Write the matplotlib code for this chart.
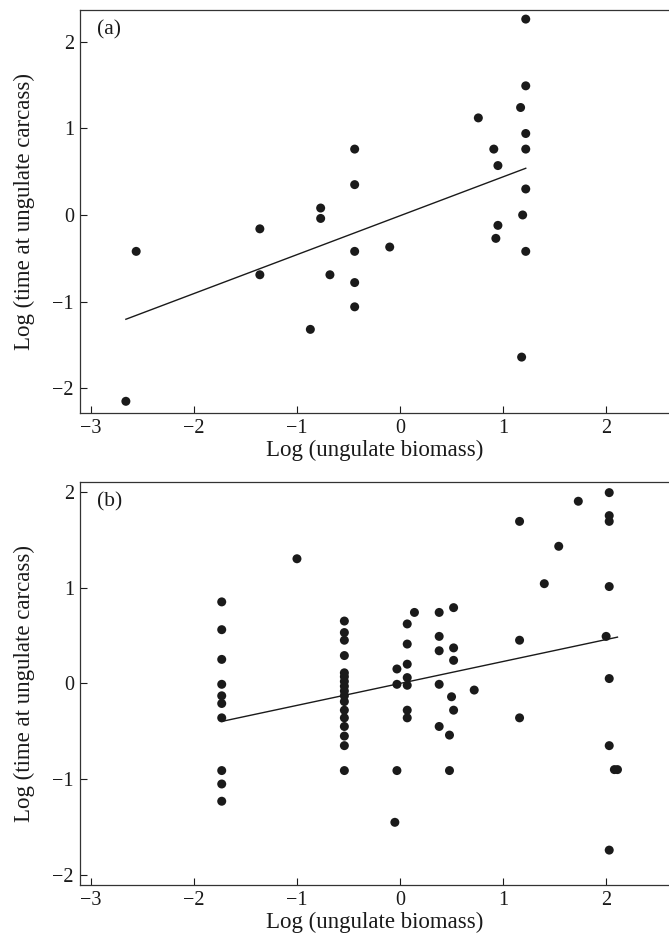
import matplotlib
matplotlib.use("Agg")
import matplotlib.pyplot as plt
import numpy as np

# ---- Panel (a) data ----
a_x = [-2.66, -2.56, -1.36, -1.36, -0.77, -0.77, -0.68, -0.87,
       -0.44, -0.44, -0.44, -0.44, -0.44, -0.10,
       0.76, 0.91, 0.95, 0.95, 0.93,
       1.22, 1.22, 1.17, 1.22, 1.22, 1.22, 1.19, 1.22, 1.18]
a_y = [-2.15, -0.42, -0.16, -0.69, 0.08, -0.04, -0.69, -1.32,
       0.76, 0.35, -0.42, -0.78, -1.06, -0.37,
       1.12, 0.76, 0.57, -0.12, -0.27,
       2.26, 1.49, 1.24, 0.94, 0.76, 0.30, 0.00, -0.42, -1.64]
a_fit = (0.449, -0.009)   # slope, intercept

# ---- Panel (b) data ----
b_x = ([-1.73] * 10 + [-1.00] + [-0.54] * 17 +
       [-0.03, -0.03, -0.03, -0.05] +
       [0.07] * 7 + [0.14] +
       [0.38] * 5 + [0.52] * 4 + [0.50, 0.48, 0.48, 0.72] +
       [1.16] * 3 + [1.40, 1.54, 1.73] +
       [2.03] * 7 + [2.00, 2.08, 2.11])
b_y = ([0.85, 0.56, 0.25, -0.01, -0.13, -0.21, -0.36, -0.91, -1.05, -1.23] +
       [1.30] +
       [0.65, 0.53, 0.45, 0.29, 0.11, 0.07, 0.02, -0.03, -0.08, -0.13, -0.19,
        -0.28, -0.36, -0.45, -0.55, -0.65, -0.91] +
       [0.15, -0.01, -0.91, -1.45] +
       [0.62, 0.41, 0.20, 0.06, -0.02, -0.28, -0.36] +
       [0.74] +
       [0.74, 0.49, 0.34, -0.01, -0.45] +
       [0.79, 0.37, 0.24, -0.28] +
       [-0.14, -0.54, -0.91, -0.07] +
       [1.69, 0.45, -0.36] +
       [1.04, 1.43, 1.90] +
       [1.99, 1.75, 1.69, 1.01, 0.05, -0.65, -1.74] +
       [0.49, -0.90, -0.90])
b_fit = (0.229, -0.001)

x_ticks = [-3, -2, -1, 0, 1, 2]
y_ticks = [-2, -1, 0, 1, 2]
xlabel = "Log (ungulate biomass)"
ylabel = "Log (time at ungulate carcass)"

plt.rcParams['font.family'] = ['Liberation Serif', 'DejaVu Serif']

W, H = 669, 936
fig = plt.figure(figsize=(W / 100, H / 100), dpi=100)

def px_axes(left, top, right, bottom):
    return fig.add_axes([left / W, 1 - bottom / H, (right - left) / W, (bottom - top) / H])

ax_a = px_axes(79.5, 10, 669, 413)
ax_b = px_axes(79.5, 481.7, 669, 885)

panels = [
    (ax_a, a_x, a_y, a_fit, (-2.285, 2.365), "(a)"),
    (ax_b, b_x, b_y, b_fit, (-2.104, 2.104), "(b)"),
]

def fmt(t):
    return str(t).replace('-', '\u2212')

for ax, xs, ys, fit, ylim, lab in panels:
    xs = np.array(xs); ys = np.array(ys)
    ax.scatter(xs, ys, s=42, color='#1a1a1a', edgecolors='none', zorder=3)
    lx = np.array([xs.min(), xs.max()])
    ax.plot(lx, fit[0] * lx + fit[1], color='#1a1a1a', lw=1.0, zorder=2)
    ax.set_xlim(-3.11, 2.61)
    ax.set_ylim(*ylim)
    ax.set_xticks(x_ticks)
    ax.set_yticks(y_ticks)
    ax.set_xticklabels([fmt(t) for t in x_ticks])
    ax.set_yticklabels([fmt(t) for t in y_ticks])
    ax.tick_params(direction='in', length=5, width=0.8, labelsize=14.5,
                   colors='#1a1a1a', pad=4)
    for s in ['left', 'top', 'bottom']:
        ax.spines[s].set_color('#333333')
        ax.spines[s].set_linewidth(0.9)
    ax.spines['right'].set_visible(False)
    ax.set_xlabel(xlabel, fontsize=16.5, color='#1a1a1a')
    ax.set_ylabel(ylabel, fontsize=16.5, color='#1a1a1a')
    ax.xaxis.set_label_coords(0.5, -0.067)
    ax.yaxis.set_label_coords(-0.0755, 0.5)
    ax.text(0.03, 0.95, lab, transform=ax.transAxes, fontsize=15.5,
            va='center', ha='left', color='#1a1a1a')

fig.savefig("out.png", dpi=100)
